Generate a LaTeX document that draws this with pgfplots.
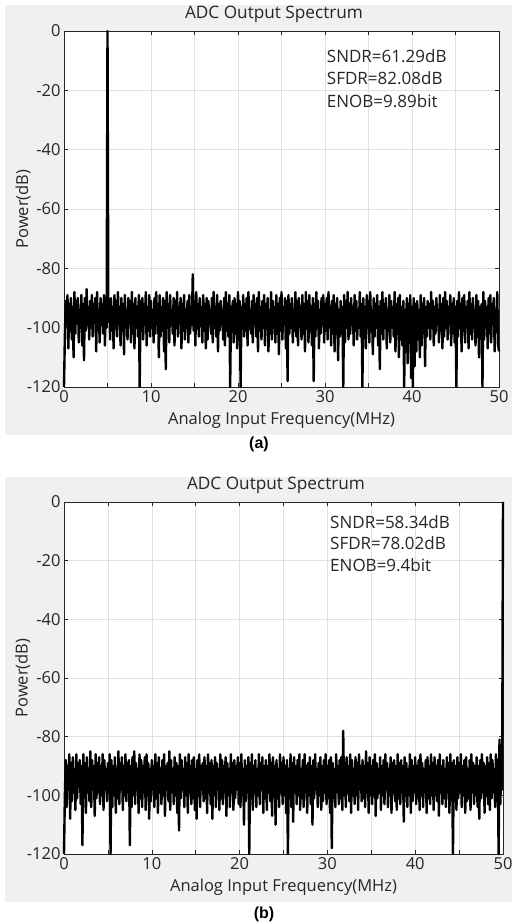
\documentclass[border=0pt]{standalone}
\usepackage{pgfplots}
\pgfplotsset{compat=1.18}
\usepackage{fontspec}
\setmainfont{Open Sans}
\newfontfamily\arialfont{Liberation Sans}
\definecolor{figbg}{HTML}{F0F0F0}
\definecolor{axcol}{HTML}{262626}
\definecolor{gridcol}{HTML}{E0E0E0}
\pgfplotsset{
  specstyle/.style={
    scale only axis,
    anchor=south west,
    xmin=0, xmax=50, ymin=-120, ymax=0,
    xtick={0,5,...,50},
    xticklabels={0,,10,,20,,30,,40,,50},
    ytick={-120,-100,...,0},
    grid=major,
    major grid style={gridcol, line width=0.5pt},
    tick align=inside,
    major tick length=4pt,
    axis line style={axcol, line width=0.6pt},
    every tick/.style={axcol, line width=0.6pt},
    tick label style={font=\fontsize{16.5}{18}\selectfont, text=axcol},
    /pgf/number format/assume math mode=true,
    label style={font=\fontsize{16.5}{18}\selectfont, text=axcol},
    title style={font=\fontsize{17.2}{19}\selectfont, text=axcol, at={(axis description cs:0.5,1)}, anchor=base, yshift=6.5pt, xshift=-7.5pt},
    title={ADC Output Spectrum},
    xlabel={Analog Input Frequency(MHz)},
    ylabel={Power(dB)},
    xlabel style={at={(axis description cs:0.5,0)}, anchor=base, yshift=-37.5pt},
    ylabel style={at={(axis description cs:-0.094,0.5)}, anchor=center},
    axis background/.style={fill=white},
    clip=false,
  },
}
\begin{document}
\begin{tikzpicture}[x=1pt,y=1pt]
\useasboundingbox (0,0) rectangle (514,923);
\fill[figbg] (5,488) rectangle (512,918);
\fill[figbg] (5,21) rectangle (512,446);
\node[font=\arialfont\bfseries\fontsize{16}{18}\selectfont] at (259,478.5) {(a)};
\node[font=\arialfont\bfseries\fontsize{16}{18}\selectfont] at (264,9) {(b)};
\begin{axis}[specstyle, at={(64pt,536pt)}, width=435pt, height=356pt]
\addplot[black, line width=2.4pt, line join=round, no marks] coordinates {
(0,-120)(0.1,-103)(0.2,-91)(0.3,-99)(0.4,-89)(0.5,-107)(0.6,-92)(0.7,-101)(0.8,-90)(0.9,-104)
(1,-93)(1.1,-110)(1.2,-88)(1.3,-102)(1.4,-91)(1.5,-98)(1.6,-90)(1.7,-105)(1.8,-94)(1.9,-100)
(2,-89)(2.1,-106)(2.2,-92)(2.3,-111)(2.4,-90)(2.5,-101)(2.6,-87)(2.7,-99)(2.8,-93)(2.9,-104)
(3,-91)(3.1,-100)(3.2,-89)(3.3,-103)(3.4,-92)(3.5,-98)(3.6,-90)(3.7,-108)(3.8,-88)(3.9,-101)
(4,-94)(4.1,-105)(4.2,-90)(4.3,-99)(4.4,-92)(4.5,-102)(4.6,-89)(4.7,-106)(4.8,-91)(4.9,-100)
(5,0)(5.1,-98)(5.2,-92)(5.3,-104)(5.4,-90)(5.5,-101)(5.6,-93)(5.7,-107)(5.8,-89)(5.9,-100)
(6,-91)(6.1,-103)(6.2,-88)(6.3,-99)(6.4,-93)(6.5,-106)(6.6,-90)(6.7,-101)(6.8,-92)(6.9,-109)
(7,-89)(7.1,-100)(7.2,-94)(7.3,-104)(7.4,-90)(7.5,-98)(7.6,-91)(7.7,-105)(7.8,-88)(7.9,-102)
(8,-92)(8.1,-107)(8.2,-90)(8.3,-100)(8.4,-93)(8.5,-103)(8.6,-89)(8.7,-120)(8.8,-91)(8.9,-101)
(9,-90)(9.1,-104)(9.2,-92)(9.3,-99)(9.4,-88)(9.5,-106)(9.6,-93)(9.7,-101)(9.8,-89)(9.9,-103)
(10,-91)(10.1,-100)(10.2,-94)(10.3,-105)(10.4,-90)(10.5,-102)(10.6,-88)(10.7,-99)(10.8,-92)(10.9,-110)
(11,-89)(11.1,-103)(11.2,-93)(11.3,-101)(11.4,-90)(11.5,-108)(11.6,-91)(11.7,-114)(11.8,-88)(11.9,-100)
(12,-92)(12.1,-105)(12.2,-89)(12.3,-99)(12.4,-94)(12.5,-102)(12.6,-90)(12.7,-106)(12.8,-91)(12.9,-100)
(13,-88)(13.1,-103)(13.2,-93)(13.3,-98)(13.4,-90)(13.5,-107)(13.6,-92)(13.7,-101)(13.8,-89)(13.9,-104)
(14,-94)(14.1,-100)(14.2,-91)(14.3,-105)(14.4,-89)(14.5,-102)(14.6,-93)(14.7,-99)(14.8,-82)(14.9,-101)
(15,-91)(15.1,-106)(15.2,-88)(15.3,-100)(15.4,-92)(15.5,-103)(15.6,-90)(15.7,-98)(15.8,-93)(15.9,-105)
(16,-89)(16.1,-101)(16.2,-92)(16.3,-107)(16.4,-90)(16.5,-104)(16.6,-91)(16.7,-99)(16.8,-94)(16.9,-102)
(17,-90)(17.1,-105)(17.2,-88)(17.3,-100)(17.4,-93)(17.5,-103)(17.6,-89)(17.7,-108)(17.8,-92)(17.9,-101)
(18,-91)(18.1,-99)(18.2,-94)(18.3,-104)(18.4,-90)(18.5,-106)(18.6,-88)(18.7,-101)(18.8,-92)(18.9,-103)
(19,-89)(19.1,-120)(19.2,-93)(19.3,-100)(19.4,-91)(19.5,-105)(19.6,-90)(19.7,-102)(19.8,-92)(19.9,-107)
(20,-88)(20.1,-104)(20.2,-91)(20.3,-120)(20.4,-93)(20.5,-99)(20.6,-89)(20.7,-103)(20.8,-92)(20.9,-101)
(21,-90)(21.1,-106)(21.2,-88)(21.3,-100)(21.4,-94)(21.5,-102)(21.6,-91)(21.7,-105)(21.8,-89)(21.9,-99)
(22,-92)(22.1,-103)(22.2,-90)(22.3,-108)(22.4,-88)(22.5,-101)(22.6,-93)(22.7,-104)(22.8,-91)(22.9,-100)
(23,-89)(23.1,-106)(23.2,-92)(23.3,-99)(23.4,-90)(23.5,-108)(23.6,-94)(23.7,-102)(23.8,-88)(23.9,-104)
(24,-91)(24.1,-100)(24.2,-93)(24.3,-105)(24.4,-89)(24.5,-102)(24.6,-92)(24.7,-109)(24.8,-90)(24.9,-101)
(25,-88)(25.1,-104)(25.2,-93)(25.3,-99)(25.4,-90)(25.5,-107)(25.6,-91)(25.7,-118)(25.8,-89)(25.9,-102)
(26,-92)(26.1,-100)(26.2,-90)(26.3,-105)(26.4,-94)(26.5,-101)(26.6,-88)(26.7,-103)(26.8,-91)(26.9,-106)
(27,-90)(27.1,-99)(27.2,-93)(27.3,-104)(27.4,-89)(27.5,-102)(27.6,-92)(27.7,-108)(27.8,-88)(27.9,-100)
(28,-91)(28.1,-105)(28.2,-89)(28.3,-101)(28.4,-93)(28.5,-106)(28.6,-90)(28.7,-118)(28.8,-92)(28.9,-103)
(29,-88)(29.1,-100)(29.2,-91)(29.3,-107)(29.4,-94)(29.5,-102)(29.6,-90)(29.7,-99)(29.8,-89)(29.9,-105)
(30,-92)(30.1,-101)(30.2,-90)(30.3,-104)(30.4,-88)(30.5,-99)(30.6,-93)(30.7,-106)(30.8,-91)(30.9,-102)
(31,-89)(31.1,-108)(31.2,-92)(31.3,-100)(31.4,-90)(31.5,-111)(31.6,-94)(31.7,-103)(31.8,-91)(31.9,-101)
(32,-93)(32.1,-120)(32.2,-89)(32.3,-105)(32.4,-91)(32.5,-100)(32.6,-88)(32.7,-104)(32.8,-92)(32.9,-102)
(33,-90)(33.1,-99)(33.2,-93)(33.3,-106)(33.4,-89)(33.5,-101)(33.6,-91)(33.7,-104)(33.8,-94)(33.9,-100)
(34,-88)(34.1,-103)(34.2,-92)(34.3,-120)(34.4,-90)(34.5,-102)(34.6,-93)(34.7,-107)(34.8,-89)(34.9,-100)
(35,-91)(35.1,-105)(35.2,-88)(35.3,-101)(35.4,-94)(35.5,-109)(35.6,-90)(35.7,-103)(35.8,-92)(35.9,-100)
(36,-89)(36.1,-106)(36.2,-93)(36.3,-114)(36.4,-91)(36.5,-102)(36.6,-88)(36.7,-104)(36.8,-92)(36.9,-99)
(37,-90)(37.1,-107)(37.2,-94)(37.3,-101)(37.4,-89)(37.5,-105)(37.6,-91)(37.7,-100)(37.8,-93)(37.9,-103)
(38,-88)(38.1,-108)(38.2,-92)(38.3,-102)(38.4,-90)(38.5,-110)(38.6,-89)(38.7,-104)(38.8,-93)(38.9,-106)
(39,-91)(39.1,-120)(39.2,-94)(39.3,-108)(39.4,-90)(39.5,-112)(39.6,-92)(39.7,-105)(39.8,-89)(39.9,-117)
(40,-93)(40.1,-120)(40.2,-90)(40.3,-113)(40.4,-92)(40.5,-108)(40.6,-91)(40.7,-104)(40.8,-94)(40.9,-110)
(41,-89)(41.1,-106)(41.2,-92)(41.3,-101)(41.4,-90)(41.5,-113)(41.6,-93)(41.7,-103)(41.8,-91)(41.9,-100)
(42,-92)(42.1,-104)(42.2,-88)(42.3,-100)(42.4,-91)(42.5,-106)(42.6,-93)(42.7,-102)(42.8,-90)(42.9,-99)
(43,-94)(43.1,-105)(43.2,-89)(43.3,-101)(43.4,-92)(43.5,-107)(43.6,-90)(43.7,-103)(43.8,-88)(43.9,-100)
(44,-91)(44.1,-104)(44.2,-93)(44.3,-99)(44.4,-89)(44.5,-106)(44.6,-92)(44.7,-102)(44.8,-90)(44.9,-105)
(45,-93)(45.1,-120)(45.2,-91)(45.3,-103)(45.4,-88)(45.5,-100)(45.6,-92)(45.7,-108)(45.8,-90)(45.9,-101)
(46,-89)(46.1,-105)(46.2,-93)(46.3,-99)(46.4,-91)(46.5,-107)(46.6,-88)(46.7,-102)(46.8,-92)(46.9,-104)
(47,-90)(47.1,-100)(47.2,-94)(47.3,-106)(47.4,-89)(47.5,-103)(47.6,-91)(47.7,-110)(47.8,-93)(47.9,-101)
(48,-92)(48.1,-120)(48.2,-88)(48.3,-104)(48.4,-91)(48.5,-100)(48.6,-93)(48.7,-107)(48.8,-90)(48.9,-102)
(49,-89)(49.1,-105)(49.2,-92)(49.3,-99)(49.4,-90)(49.5,-108)(49.6,-94)(49.7,-101)(49.8,-88)(49.9,-106)
(50,-108)
};
\node[anchor=north west, align=left, font=\fontsize{17}{22.5}\selectfont, text=axcol, inner sep=0pt] at (axis cs:30.2,-6.1) {SNDR=61.29dB\\SFDR=82.08dB\\ENOB=9.89bit};
\end{axis}
\begin{axis}[specstyle, at={(64pt,69pt)}, width=439pt, height=352pt]
\addplot[black, line width=2.4pt, line join=round, no marks] coordinates {
(0,-120)(0.1,-100)(0.2,-88)(0.3,-104)(0.4,-90)(0.5,-98)(0.6,-86)(0.7,-108)(0.8,-89)(0.9,-102)
(1,-87)(1.1,-99)(1.2,-91)(1.3,-105)(1.4,-86)(1.5,-101)(1.6,-89)(1.7,-97)(1.8,-88)(1.9,-103)
(2,-90)(2.1,-117)(2.2,-86)(2.3,-100)(2.4,-89)(2.5,-106)(2.6,-87)(2.7,-99)(2.8,-91)(2.9,-102)
(3,-85)(3.1,-104)(3.2,-88)(3.3,-98)(3.4,-90)(3.5,-107)(3.6,-86)(3.7,-101)(3.8,-89)(3.9,-99)
(4,-87)(4.1,-103)(4.2,-90)(4.3,-100)(4.4,-86)(4.5,-105)(4.6,-88)(4.7,-98)(4.8,-91)(4.9,-102)
(5,-89)(5.1,-99)(5.2,-86)(5.3,-120)(5.4,-88)(5.5,-104)(5.6,-90)(5.7,-100)(5.8,-87)(5.9,-106)
(6,-91)(6.1,-101)(6.2,-85)(6.3,-103)(6.4,-89)(6.5,-98)(6.6,-87)(6.7,-105)(6.8,-90)(6.9,-100)
(7,-86)(7.1,-102)(7.2,-89)(7.3,-99)(7.4,-88)(7.5,-117)(7.6,-90)(7.7,-104)(7.8,-87)(7.9,-100)
(8,-85)(8.1,-103)(8.2,-89)(8.3,-98)(8.4,-91)(8.5,-106)(8.6,-86)(8.7,-101)(8.8,-88)(8.9,-104)
(9,-90)(9.1,-99)(9.2,-87)(9.3,-105)(9.4,-86)(9.5,-100)(9.6,-89)(9.7,-108)(9.8,-91)(9.9,-102)
(10,-88)(10.1,-98)(10.2,-90)(10.3,-104)(10.4,-86)(10.5,-101)(10.6,-89)(10.7,-106)(10.8,-87)(10.9,-99)
(11,-91)(11.1,-103)(11.2,-88)(11.3,-100)(11.4,-86)(11.5,-107)(11.6,-90)(11.7,-98)(11.8,-89)(11.9,-102)
(12,-85)(12.1,-105)(12.2,-88)(12.3,-99)(12.4,-91)(12.5,-103)(12.6,-87)(12.7,-100)(12.8,-89)(12.9,-106)
(13,-90)(13.1,-112)(13.2,-86)(13.3,-101)(13.4,-88)(13.5,-98)(13.6,-91)(13.7,-104)(13.8,-87)(13.9,-100)
(14,-89)(14.1,-106)(14.2,-86)(14.3,-99)(14.4,-90)(14.5,-103)(14.6,-88)(14.7,-101)(14.8,-87)(14.9,-105)
(15,-91)(15.1,-108)(15.2,-88)(15.3,-100)(15.4,-86)(15.5,-104)(15.6,-90)(15.7,-98)(15.8,-89)(15.9,-102)
(16,-87)(16.1,-101)(16.2,-90)(16.3,-106)(16.4,-86)(16.5,-99)(16.6,-89)(16.7,-103)(16.8,-88)(16.9,-108)
(17,-90)(17.1,-100)(17.2,-87)(17.3,-104)(17.4,-89)(17.5,-98)(17.6,-91)(17.7,-105)(17.8,-86)(17.9,-101)
(18,-88)(18.1,-103)(18.2,-90)(18.3,-99)(18.4,-87)(18.5,-107)(18.6,-89)(18.7,-100)(18.8,-91)(18.9,-104)
(19,-86)(19.1,-99)(19.2,-89)(19.3,-105)(19.4,-88)(19.5,-101)(19.6,-90)(19.7,-98)(19.8,-87)(19.9,-103)
(20,-89)(20.1,-104)(20.2,-86)(20.3,-100)(20.4,-91)(20.5,-110)(20.6,-88)(20.7,-102)(20.8,-90)(20.9,-99)
(21,-87)(21.1,-120)(21.2,-89)(21.3,-101)(21.4,-86)(21.5,-105)(21.6,-90)(21.7,-99)(21.8,-88)(21.9,-104)
(22,-91)(22.1,-100)(22.2,-86)(22.3,-103)(22.4,-89)(22.5,-98)(22.6,-87)(22.7,-106)(22.8,-90)(22.9,-101)
(23,-88)(23.1,-105)(23.2,-90)(23.3,-99)(23.4,-86)(23.5,-102)(23.6,-89)(23.7,-107)(23.8,-87)(23.9,-100)
(24,-90)(24.1,-110)(24.2,-88)(24.3,-101)(24.4,-91)(24.5,-104)(24.6,-86)(24.7,-99)(24.8,-89)(24.9,-103)
(25,-87)(25.1,-100)(25.2,-90)(25.3,-106)(25.4,-88)(25.5,-120)(25.6,-91)(25.7,-101)(25.8,-86)(25.9,-104)
(26,-89)(26.1,-109)(26.2,-87)(26.3,-99)(26.4,-90)(26.5,-103)(26.6,-88)(26.7,-100)(26.8,-86)(26.9,-105)
(27,-91)(27.1,-101)(27.2,-88)(27.3,-104)(27.4,-86)(27.5,-99)(27.6,-90)(27.7,-106)(27.8,-89)(27.9,-100)
(28,-87)(28.1,-103)(28.2,-90)(28.3,-110)(28.4,-88)(28.5,-101)(28.6,-86)(28.7,-98)(28.8,-91)(28.9,-104)
(29,-89)(29.1,-100)(29.2,-87)(29.3,-105)(29.4,-90)(29.5,-102)(29.6,-88)(29.7,-99)(29.8,-86)(29.9,-103)
(30,-90)(30.1,-101)(30.2,-88)(30.3,-106)(30.4,-87)(30.5,-118)(30.6,-89)(30.7,-100)(30.8,-91)(30.9,-104)
(31,-86)(31.1,-99)(31.2,-90)(31.3,-103)(31.4,-88)(31.5,-101)(31.6,-87)(31.7,-105)(31.8,-78)(31.9,-100)
(32,-89)(32.1,-104)(32.2,-87)(32.3,-99)(32.4,-90)(32.5,-102)(32.6,-86)(32.7,-106)(32.8,-88)(32.9,-100)
(33,-91)(33.1,-103)(33.2,-87)(33.3,-100)(33.4,-89)(33.5,-105)(33.6,-86)(33.7,-98)(33.8,-90)(33.9,-102)
(34,-88)(34.1,-101)(34.2,-90)(34.3,-104)(34.4,-85)(34.5,-99)(34.6,-89)(34.7,-106)(34.8,-87)(34.9,-100)
(35,-90)(35.1,-103)(35.2,-88)(35.3,-100)(35.4,-86)(35.5,-107)(35.6,-89)(35.7,-101)(35.8,-91)(35.9,-99)
(36,-87)(36.1,-105)(36.2,-90)(36.3,-100)(36.4,-88)(36.5,-103)(36.6,-86)(36.7,-98)(36.8,-89)(36.9,-104)
(37,-91)(37.1,-100)(37.2,-87)(37.3,-106)(37.4,-89)(37.5,-99)(37.6,-88)(37.7,-102)(37.8,-90)(37.9,-105)
(38,-86)(38.1,-101)(38.2,-89)(38.3,-103)(38.4,-88)(38.5,-99)(38.6,-90)(38.7,-109)(38.8,-87)(38.9,-100)
(39,-89)(39.1,-104)(39.2,-91)(39.3,-100)(39.4,-86)(39.5,-106)(39.6,-88)(39.7,-102)(39.8,-90)(39.9,-99)
(40,-87)(40.1,-103)(40.2,-90)(40.3,-101)(40.4,-88)(40.5,-105)(40.6,-86)(40.7,-100)(40.8,-89)(40.9,-104)
(41,-91)(41.1,-99)(41.2,-88)(41.3,-106)(41.4,-87)(41.5,-101)(41.6,-90)(41.7,-103)(41.8,-86)(41.9,-100)
(42,-89)(42.1,-105)(42.2,-87)(42.3,-100)(42.4,-90)(42.5,-102)(42.6,-88)(42.7,-107)(42.8,-86)(42.9,-99)
(43,-90)(43.1,-103)(43.2,-88)(43.3,-101)(43.4,-91)(43.5,-104)(43.6,-87)(43.7,-99)(43.8,-89)(43.9,-106)
(44,-86)(44.1,-100)(44.2,-89)(44.3,-120)(44.4,-88)(44.5,-102)(44.6,-90)(44.7,-105)(44.8,-87)(44.9,-101)
(45,-89)(45.1,-99)(45.2,-86)(45.3,-104)(45.4,-90)(45.5,-100)(45.6,-88)(45.7,-106)(45.8,-87)(45.9,-102)
(46,-91)(46.1,-101)(46.2,-88)(46.3,-105)(46.4,-86)(46.5,-99)(46.6,-89)(46.7,-103)(46.8,-90)(46.9,-100)
(47,-87)(47.1,-104)(47.2,-90)(47.3,-108)(47.4,-88)(47.5,-101)(47.6,-86)(47.7,-99)(47.8,-89)(47.9,-106)
(48,-90)(48.1,-100)(48.2,-87)(48.3,-103)(48.4,-89)(48.5,-105)(48.6,-86)(48.7,-101)(48.8,-88)(48.9,-99)
(49,-91)(49.1,-104)(49.2,-86)(49.3,-102)(49.4,-88)(49.5,-120)(49.6,-81)(49.7,-103)(49.8,-87)(49.9,-98)
(50,0)
};
\node[anchor=north west, align=left, font=\fontsize{17}{21.5}\selectfont, text=axcol, inner sep=0pt] at (axis cs:30.3,-4.4) {SNDR=58.34dB\\SFDR=78.02dB\\ENOB=9.4bit};
\end{axis}
\end{tikzpicture}
\end{document}
